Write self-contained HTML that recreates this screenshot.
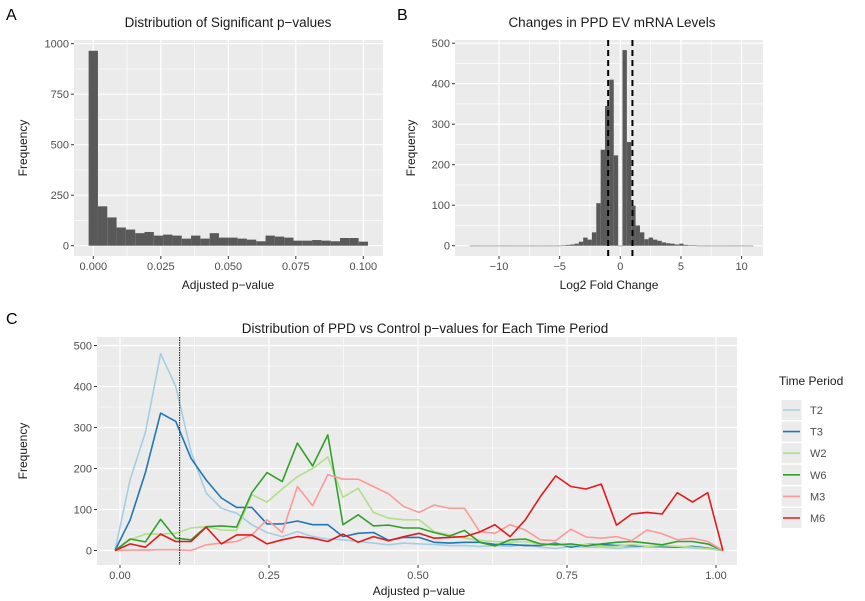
<!DOCTYPE html>
<html><head><meta charset="utf-8"><style>
body{margin:0;background:#fff;}
svg{display:block;font-family:"Liberation Sans",sans-serif;}
.tick{fill:#4d4d4d;font-size:11px;}
.ttl{fill:#1a1a1a;font-size:13.5px;}
.ax{fill:#1a1a1a;font-size:12px;}
</style></head><body>
<svg id="chart" width="865" height="601" viewBox="0 0 865 601">
<text x="6" y="20" font-size="16" fill="#000">A</text>
<text x="397" y="20" font-size="16" fill="#000">B</text>
<text x="6" y="324" font-size="16" fill="#000">C</text>
<g id="pa"></g><g id="pb"></g><g id="pc"></g>
</svg>
<script>
// Panel A data
const aCounts=[965,195,140,90,80,62,68,50,55,50,35,50,35,62,40,40,35,30,22,50,45,40,25,25,28,25,22,38,38,20];
const aYTicks=[0,250,500,750,1000];
const aXTicks=[0,0.025,0.05,0.075,0.1];
const aXLabels=["0.000","0.025","0.050","0.075","0.100"];
// Panel B data (bins centered at k*0.36, k=-34..30)
const bStartK=-34;
const bCounts=[0,0,0,0,0,0,0,0,0,0,0,0,0,0,0,0,0,0,0,0,0,1,2,3,5,10,20,15,33,105,237,345,410,223,0,483,256,99,50,33,16,20,15,12,8,6,5,3,5,2,1,1,0,0,0,0,0,0,0,0,0,0,0,0,0];
const bYTicks=[0,100,200,300,400,500];
const bXTicks=[-10,-5,0,5,10];
const bVLines=[-1,1];
// Panel C data
const cSeriesNames=["T2","T3","W2","W6","M3","M6"];
const cColors=["#a6cee3","#1f78b4","#b2df8a","#33a02c","#fb9a99","#e31a1c"];
const T2=[0,174,288,480,400,241,140,103,91,63,44,34,46,34,28,26,22,18,14,18,16,15,12,12,10,12,10,15,8,5,10,8,8,5,8,10,8,8,6,4,0];
const T3=[0,75,190,335,315,225,172,128,105,105,65,65,72,63,63,34,42,44,25,32,32,20,18,20,20,15,15,12,12,18,8,15,15,12,12,10,10,8,10,6,0];
const W2=[0,26,40,40,42,55,58,50,49,136,118,150,180,200,228,130,152,93,79,75,75,46,38,30,25,22,20,22,15,15,12,15,10,10,15,10,12,10,8,5,0];
const W6=[0,28,21,76,30,26,58,60,57,141,190,168,262,206,282,63,87,60,62,55,55,44,35,49,20,11,26,28,16,14,16,11,16,20,22,18,14,22,22,16,0];
const M3=[0,1,1,2,2,0,14,18,22,38,75,44,156,109,185,174,174,156,138,107,93,111,103,103,46,42,63,50,26,24,52,33,30,34,24,50,41,26,30,22,0];
const M6=[0,16,8,40,22,22,57,16,38,38,16,26,34,30,22,40,20,34,24,34,42,30,32,34,45,63,34,75,132,182,156,150,162,62,89,93,89,141,118,141,0];
const cX0=-0.0084;
const cStep=0.0255;
const cYTicks=[0,100,200,300,400,500];
const cXTicks=[0,0.25,0.5,0.75,1];
const cXLabels=["0.00","0.25","0.50","0.75","1.00"];
const cVLine=0.1;

const NS="http://www.w3.org/2000/svg";
function mk(parent,tag,attrs){const e=document.createElementNS(NS,tag);for(const k in attrs)e.setAttribute(k,attrs[k]);parent.appendChild(e);return e;}
function txt(parent,x,y,s,cls,anchor,rot){const t=mk(parent,"text",{x:x,y:y,class:cls,"text-anchor":anchor||"middle"});if(rot)t.setAttribute("transform","rotate(-90 "+x+" "+y+")");t.textContent=s;return t;}
function panel(g,L,R,T,B,sx,sy,yTicks,xTicks,xLabels,minorY,minorX){
 const bg=mk(g,"rect",{x:L,y:T,width:R-L,height:B-T,fill:"#ebebeb"});
 
 
 minorY.forEach(v=>mk(g,"line",{x1:L,x2:R,y1:sy(v),y2:sy(v),stroke:"#fff","stroke-width":0.6}));
 minorX.forEach(v=>mk(g,"line",{y1:T,y2:B,x1:sx(v),x2:sx(v),stroke:"#fff","stroke-width":0.6}));
 yTicks.forEach(v=>{mk(g,"line",{x1:L,x2:R,y1:sy(v),y2:sy(v),stroke:"#fff","stroke-width":1.2});mk(g,"line",{x1:L-3,x2:L,y1:sy(v),y2:sy(v),stroke:"#333"});
  const t=txt(g,L-5,sy(v)+4,String(v),"tick","end");});
 xTicks.forEach((v,i)=>{mk(g,"line",{y1:T,y2:B,x1:sx(v),x2:sx(v),stroke:"#fff","stroke-width":1.2});mk(g,"line",{y1:B,y2:B+3,x1:sx(v),x2:sx(v),stroke:"#333"});
  const t=txt(g,sx(v),B+14,xLabels[i],"tick");});
}
function mids(a){const r=[];for(let i=0;i<a.length-1;i++)r.push((a[i]+a[i+1])/2);return r;}
// Panel A
(function(){
 const g=document.getElementById("pa");
 
 const L=74,R=383,T=40,B=256;
 const sx=v=>93.3+v*2700, sy=v=>245.7-v*0.202;
 panel(g,L,R,T,B,sx,sy,aYTicks,aXTicks,aXLabels,mids(aYTicks),mids(aXTicks));
 const w=0.1/29;
 aCounts.forEach((c,i)=>{const x0=sx(i*w-w/2),x1=sx(i*w+w/2);
  const r=mk(g,"rect",{x:x0,y:sy(c),width:x1-x0,height:Math.max(0.3,sy(0)-sy(c)),fill:"#595959"});
  });
 const t1=txt(g,228,27,"Distribution of Significant p−values","ttl");
 const t2=txt(g,228,289,"Adjusted p−value","ax");
 const t3=txt(g,27,148,"Frequency","ax","middle",true);
})();
// Panel B
(function(){
 const g=document.getElementById("pb");
 
 const L=455,R=763,T=40,B=256;
 const sx=v=>620.3+v*12.13, sy=v=>245.7-v*0.405;
 panel(g,L,R,T,B,sx,sy,bYTicks,bXTicks,bXTicks.map(v=>String(v).replace("-","−")),mids(bYTicks),mids(bXTicks));
 const w=0.36;
 bCounts.forEach((c,i)=>{const k=bStartK+i;const x0=sx(k*w-w/2),x1=sx(k*w+w/2);
  const r=mk(g,"rect",{x:x0,y:sy(c),width:x1-x0,height:Math.max(0.5,sy(0)-sy(c)),fill:"#595959"});
  });
 bVLines.forEach(v=>{const l=mk(g,"line",{x1:sx(v),x2:sx(v),y1:T,y2:B,stroke:"#000","stroke-width":2,"stroke-dasharray":"6,4"});
  });
 const t1=txt(g,612,27,"Changes in PPD EV mRNA Levels","ttl");
 const t2=txt(g,609,289,"Log2 Fold Change","ax");
 const t3=txt(g,415,148,"Frequency","ax","middle",true);
})();
// Panel C
(function(){
 const g=document.getElementById("pc");
 
 const L=97,R=737,T=337,B=565;
 const sx=v=>120+v*596, sy=v=>550.5-v*0.41;
 panel(g,L,R,T,B,sx,sy,cYTicks,cXTicks,cXLabels,mids(cYTicks),mids(cXTicks));
 const series=[T2,T3,W2,W6,M3,M6];
 series.forEach((s,j)=>{const pts=s.map((v,i)=>sx(cX0+i*cStep).toFixed(1)+","+sy(v).toFixed(1)).join(" ");
  const p=mk(g,"polyline",{points:pts,fill:"none",stroke:cColors[j],"stroke-width":1.6,"stroke-linejoin":"round"});
  });
 const vl=mk(g,"line",{x1:sx(cVLine),x2:sx(cVLine),y1:T,y2:B,stroke:"#333","stroke-width":1.2,"stroke-dasharray":"1.5,1"});
 
 const t1=txt(g,425,333,"Distribution of PPD vs Control p−values for Each Time Period","ttl");
 const t2=txt(g,419,595,"Adjusted p−value","ax");
 const t3=txt(g,27,451,"Frequency","ax","middle",true);
 const lg=mk(g,"g",{});
 
 const lt=txt(lg,779,385,"Time Period","ax","start");
 cSeriesNames.forEach((n,j)=>{const y=410+j*21.6;
  const e=mk(lg,"g",{});
  
  mk(e,"rect",{x:781,y:y-10.5,width:21,height:21,fill:"#ebebeb",stroke:"#fff"});
  mk(e,"line",{x1:783,x2:800,y1:y,y2:y,stroke:cColors[j],"stroke-width":1.6});
  txt(e,810,y+4,n,"tick","start");});
})();
</script>
</body></html>
